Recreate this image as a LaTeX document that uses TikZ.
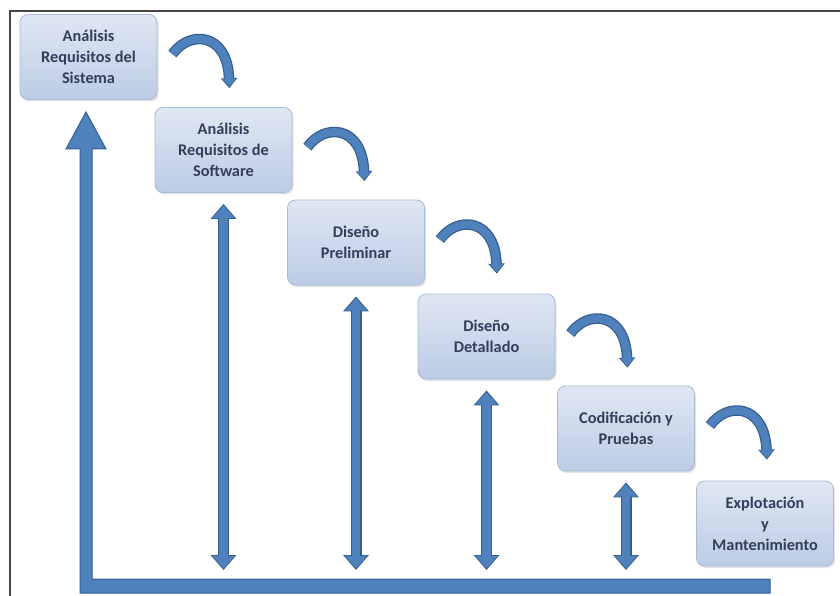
\documentclass[tikz,border=0pt]{standalone}
\usepackage{fontspec}
\setmainfont{Carlito}
\usetikzlibrary{arrows.meta,shadows}

\definecolor{boxtop}{HTML}{DFE7F3}
\definecolor{boxbot}{HTML}{BCCCE4}
\definecolor{boxedge}{HTML}{A7BAD6}
\definecolor{boxtext}{HTML}{323E5C}
\definecolor{arrowfill}{HTML}{4F81BD}
\definecolor{arrowedge}{HTML}{355E8F}
\definecolor{framecol}{HTML}{454545}

\tikzset{
  phase/.style={
    rounded corners=8pt, minimum width=137pt, minimum height=85pt,
    inner sep=0pt, align=center, text=boxtext,
    font=\fontsize{16.3}{21}\selectfont\bfseries,
    top color=boxtop, bottom color=boxbot, draw=boxedge, line width=0.8pt,
    drop shadow={opacity=0.22, shadow xshift=1.5pt, shadow yshift=-2pt}},
  % curved step-to-step arrow: dark outline stroke with a blue core on top
  turnarrow/.style={
    draw=arrowedge, line width=10.5pt, line cap=butt,
    -{Triangle[width=16pt,length=10pt]},
    postaction={draw=arrowfill, line width=8pt, shorten >=1.5pt,
      -{Triangle[width=12.8pt,length=7.8pt]}}},
  % vertical two-headed feedback arrow
  dblarrow/.style={
    draw=arrowedge, line width=11pt,
    {Triangle[width=25pt,length=15pt]}-{Triangle[width=25pt,length=15pt]},
    postaction={draw=arrowfill, line width=8.6pt,
      shorten >=1.6pt, shorten <=1.6pt,
      {Triangle[width=21.5pt,length=12.6pt]}-{Triangle[width=21.5pt,length=12.6pt]}}},
  bigarrow/.style={draw=arrowedge, fill=arrowfill, line width=1pt, line join=miter},
}

\begin{document}
\begin{tikzpicture}[x=1pt,y=-1pt]
  \useasboundingbox (0,0) rectangle (840,596);
  \fill[white] (0,0) rectangle (840,596);

  % frame
  \draw[framecol, line width=1.6pt] (10,596) -- (10,11) -- (840,11);

  % return path: up the left side and along the bottom
  \coordinate (tip) at (86,112);
  \coordinate (corner) at (80,593);
  \coordinate (floor) at (0,570);
  \path[bigarrow] (tip) -- (106,149) -- (92,149) -- (92,579) -- (770,579)
    -- (770,593) -- (corner) -- (80,149) -- (66,149) -- cycle;

  % phases
  \node[phase] (b1) at (88.5,57)   {Análisis\\Requisitos del\\Sistema};
  \node[phase] (b2) at (223.5,150) {Análisis\\Requisitos de\\Software};
  \node[phase] (b3) at (356,242.5) {Diseño\\Preliminar};
  \node[phase] (b4) at (486.5,336.5) {Diseño\\Detallado};
  \node[phase] (b5) at (626,428.5) {Codificación y\\Pruebas};
  \node[phase] (b6) at (765,523.5) {Explotación\\y\\Mantenimiento};

  % curved arrows from each phase to the next
  \foreach \b in {b1,b2,b3,b4,b5}{
    \draw[turnarrow]
      ([shift={(15,40)}]\b.north east)
      .. controls ([shift={(32,16)}]\b.north east)
             and ([shift={(70,18)}]\b.north east)
      .. ([shift={(72,74)}]\b.north east);
  }

  % feedback arrows down to the bottom line
  \foreach \b in {b2,b3,b4,b5}{
    \draw[dblarrow] ([yshift=-11pt]\b.south) -- (\b.south |- floor);
  }
\end{tikzpicture}
\end{document}
